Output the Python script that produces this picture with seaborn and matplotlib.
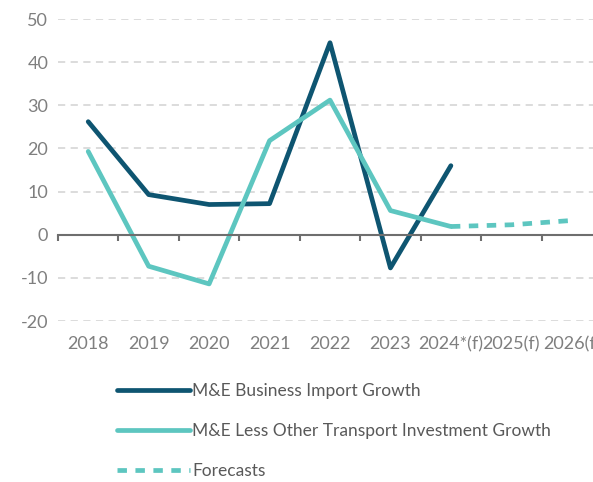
import matplotlib
matplotlib.use("Agg")
import matplotlib.pyplot as plt
import pandas as pd
import seaborn as sns

years = ["2018", "2019", "2020", "2021", "2022", "2023", "2024*(f)", "2025(f)", "2026(f)"]
import_growth = [26.2, 9.3, 7.0, 7.2, 44.5, -7.7, 16.0]
invest_growth = [19.3, -7.3, -11.4, 21.8, 31.2, 5.6, 1.9]
forecast = [1.9, 2.3, 3.3]

DARK = "#0E5571"
TEAL = "#5DC6C0"
GREY_TXT = "#7F7F7F"

sns.set_theme(style="white")
plt.rcParams["font.family"] = ["Lato", "DejaVu Sans"]
plt.rcParams["axes.unicode_minus"] = False

hist = pd.DataFrame({
    "year": years[:7],
    "imports": import_growth,
    "invest": invest_growth,
})
fc = pd.DataFrame({"year": years[6:], "value": forecast})

fig = plt.figure(figsize=(5.93, 4.82), dpi=100)
ax = fig.add_axes([58 / 593, 1 - 321 / 482, 544 / 593, 302 / 482])

# establish category order once
ax.plot(years, [0] * len(years), alpha=0)

sns.lineplot(data=hist, x="year", y="imports", ax=ax, color=DARK, lw=3.4,
             label="M&E Business Import Growth", sort=False,
             solid_capstyle="round", solid_joinstyle="round")
sns.lineplot(data=hist, x="year", y="invest", ax=ax, color=TEAL, lw=3.4,
             label="M&E Less Other Transport Investment Growth", sort=False,
             solid_capstyle="round", solid_joinstyle="round")
sns.lineplot(data=fc, x="year", y="value", ax=ax, color=TEAL, lw=3.4,
             label="Forecasts", sort=False, linestyle=(0, (2.0, 1.8)))

ax.set_xlim(-0.5, len(years) - 0.5)
ax.set_ylim(-20, 50)
ax.set_yticks(range(-20, 51, 10))
ax.yaxis.grid(True, color="#D9D9D9", lw=1.3, linestyle=(0, (4, 3)))
ax.set_axisbelow(True)
for side in ["left", "right", "top"]:
    ax.spines[side].set_visible(False)
ax.spines["bottom"].set_position(("data", 0))
ax.spines["bottom"].set_color("#6E6E6E")
ax.spines["bottom"].set_linewidth(1.5)
ax.set_xticks([i + 0.5 for i in range(-1, len(years))], minor=True)
ax.set_xticks(range(len(years)))
ax.tick_params(axis="x", which="major", length=0, labelbottom=False)
ax.tick_params(axis="x", which="minor", length=4, width=1.5, color="#6E6E6E", direction="out")
ax.tick_params(axis="y", length=0, labelsize=13, labelcolor=GREY_TXT, pad=7)
ax.set_xlabel("")
ax.set_ylabel("")
ax.get_legend().remove()

# year labels under the plot area
ax2 = ax.twiny()
ax2.set_xlim(ax.get_xlim())
ax2.xaxis.set_ticks_position("bottom")
ax2.xaxis.set_label_position("bottom")
ax2.set_xticks(range(len(years)))
ax2.set_xticklabels(years)
ax2.tick_params(axis="x", length=0, labelsize=13, labelcolor=GREY_TXT, pad=11)
for s in ax2.spines.values():
    s.set_visible(False)

handles, labels = ax.get_legend_handles_labels()
fig.legend(handles, labels, loc="upper left", bbox_to_anchor=(117 / 593, 1 - 383 / 482),
           frameon=False, fontsize=12.5, handlelength=4.2, handletextpad=0.12,
           labelspacing=1.38, borderpad=0, borderaxespad=0, labelcolor="#595959")

fig.savefig("out.png", dpi=100)
